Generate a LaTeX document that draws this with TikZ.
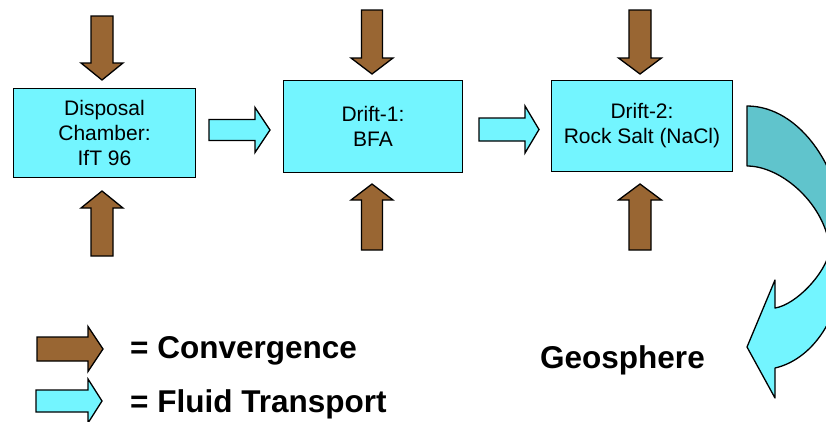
\documentclass[tikz,border=0pt]{standalone}
\usepackage{fontspec}
\setmainfont{Liberation Sans}
\definecolor{boxcyan}{RGB}{115,245,255}
\definecolor{darkteal}{RGB}{96,196,204}
\definecolor{convbrown}{RGB}{153,102,51}
\newcommand{\myrarrow}[7]{\draw[#1] (#2,#5-#6) -- (#3,#5-#6) -- (#3,#5-#7) -- (#4,#5) -- (#3,#5+#7) -- (#3,#5+#6) -- (#2,#5+#6) -- cycle;}
\newcommand{\myvarrow}[7]{\draw[#1] (#5-#6,#2) -- (#5-#6,#3) -- (#5-#7,#3) -- (#5,#4) -- (#5+#7,#3) -- (#5+#6,#3) -- (#5+#6,#2) -- cycle;}
\tikzset{
  stagebox/.style={draw=black, line width=1.8pt, fill=boxcyan, align=center, inner sep=0pt,
    font=\fontsize{21}{25}\selectfont},
  conv/.style={draw=black, line width=1.3pt, fill=convbrown, line join=miter},
  fluid/.style={draw=black, line width=1.3pt, fill=boxcyan, line join=miter},
  curvedark/.style={draw=black, line width=1.3pt, fill=darkteal},
  legendtext/.style={inner sep=0pt, anchor=base west, font=\fontsize{31.5}{37}\selectfont\bfseries}
}
\begin{document}
\begin{tikzpicture}[x=1pt,y=-1pt]
\useasboundingbox (0,0) rectangle (826,421);
\fill[white] (0,0) rectangle (826,421);

% boxes
\node[stagebox, minimum width=182pt, minimum height=89pt] (b1) at (104.5,133) {Disposal\\Chamber:\\IfT 96};
\node[stagebox, minimum width=179pt, minimum height=92pt] (b2) at (373,126.5) {Drift-1:\\BFA};
\node[stagebox, minimum width=181pt, minimum height=91pt] (b3) at (642,126) {Drift-2:\\Rock Salt (NaCl)};

% convergence arrows (top, pointing down)
\myvarrow{conv}{16}{63}{80}{102}{11}{21}
\myvarrow{conv}{10}{58}{74}{372}{10.5}{21}
\myvarrow{conv}{10}{58}{74}{640}{11}{21.5}
% convergence arrows (bottom, pointing up)
\myvarrow{conv}{256}{208}{191}{102}{11}{21}
\myvarrow{conv}{250}{200}{184}{372}{10.5}{21}
\myvarrow{conv}{250}{200}{184}{640}{11}{21.5}

% fluid transport arrows
\myrarrow{fluid}{209}{255}{270}{130}{10.5}{22.5}
\myrarrow{fluid}{479}{525}{539}{129.5}{11.5}{23.5}

% curved arrow to geosphere
\begin{scope}
\clip (0,0) rectangle (826,421);
\draw[fluid, line join=round] (845,245) .. controls (845,320) and (810,360) .. (775,368)
  -- (775,398) -- (747,347) -- (775,280) -- (775,308)
  .. controls (795,305) and (825,275) .. (830,250) -- cycle;
\draw[curvedark, line join=round] (747,106) .. controls (800,106) and (845,170) .. (845,245)
  -- (830,250) .. controls (826,205) and (782,166) .. (747,166) -- cycle;
\end{scope}

% legend
\myrarrow{conv}{37}{88}{103}{349}{12}{22.5}
\myrarrow{fluid}{36}{88}{102}{401}{11}{22}
\node[legendtext] (lc) at (130,358) {= Convergence};
\node[legendtext] (lf) at (130,412) {= Fluid Transport};
\node[legendtext] (geo) at (540,368) {Geosphere};
\end{tikzpicture}
\end{document}
